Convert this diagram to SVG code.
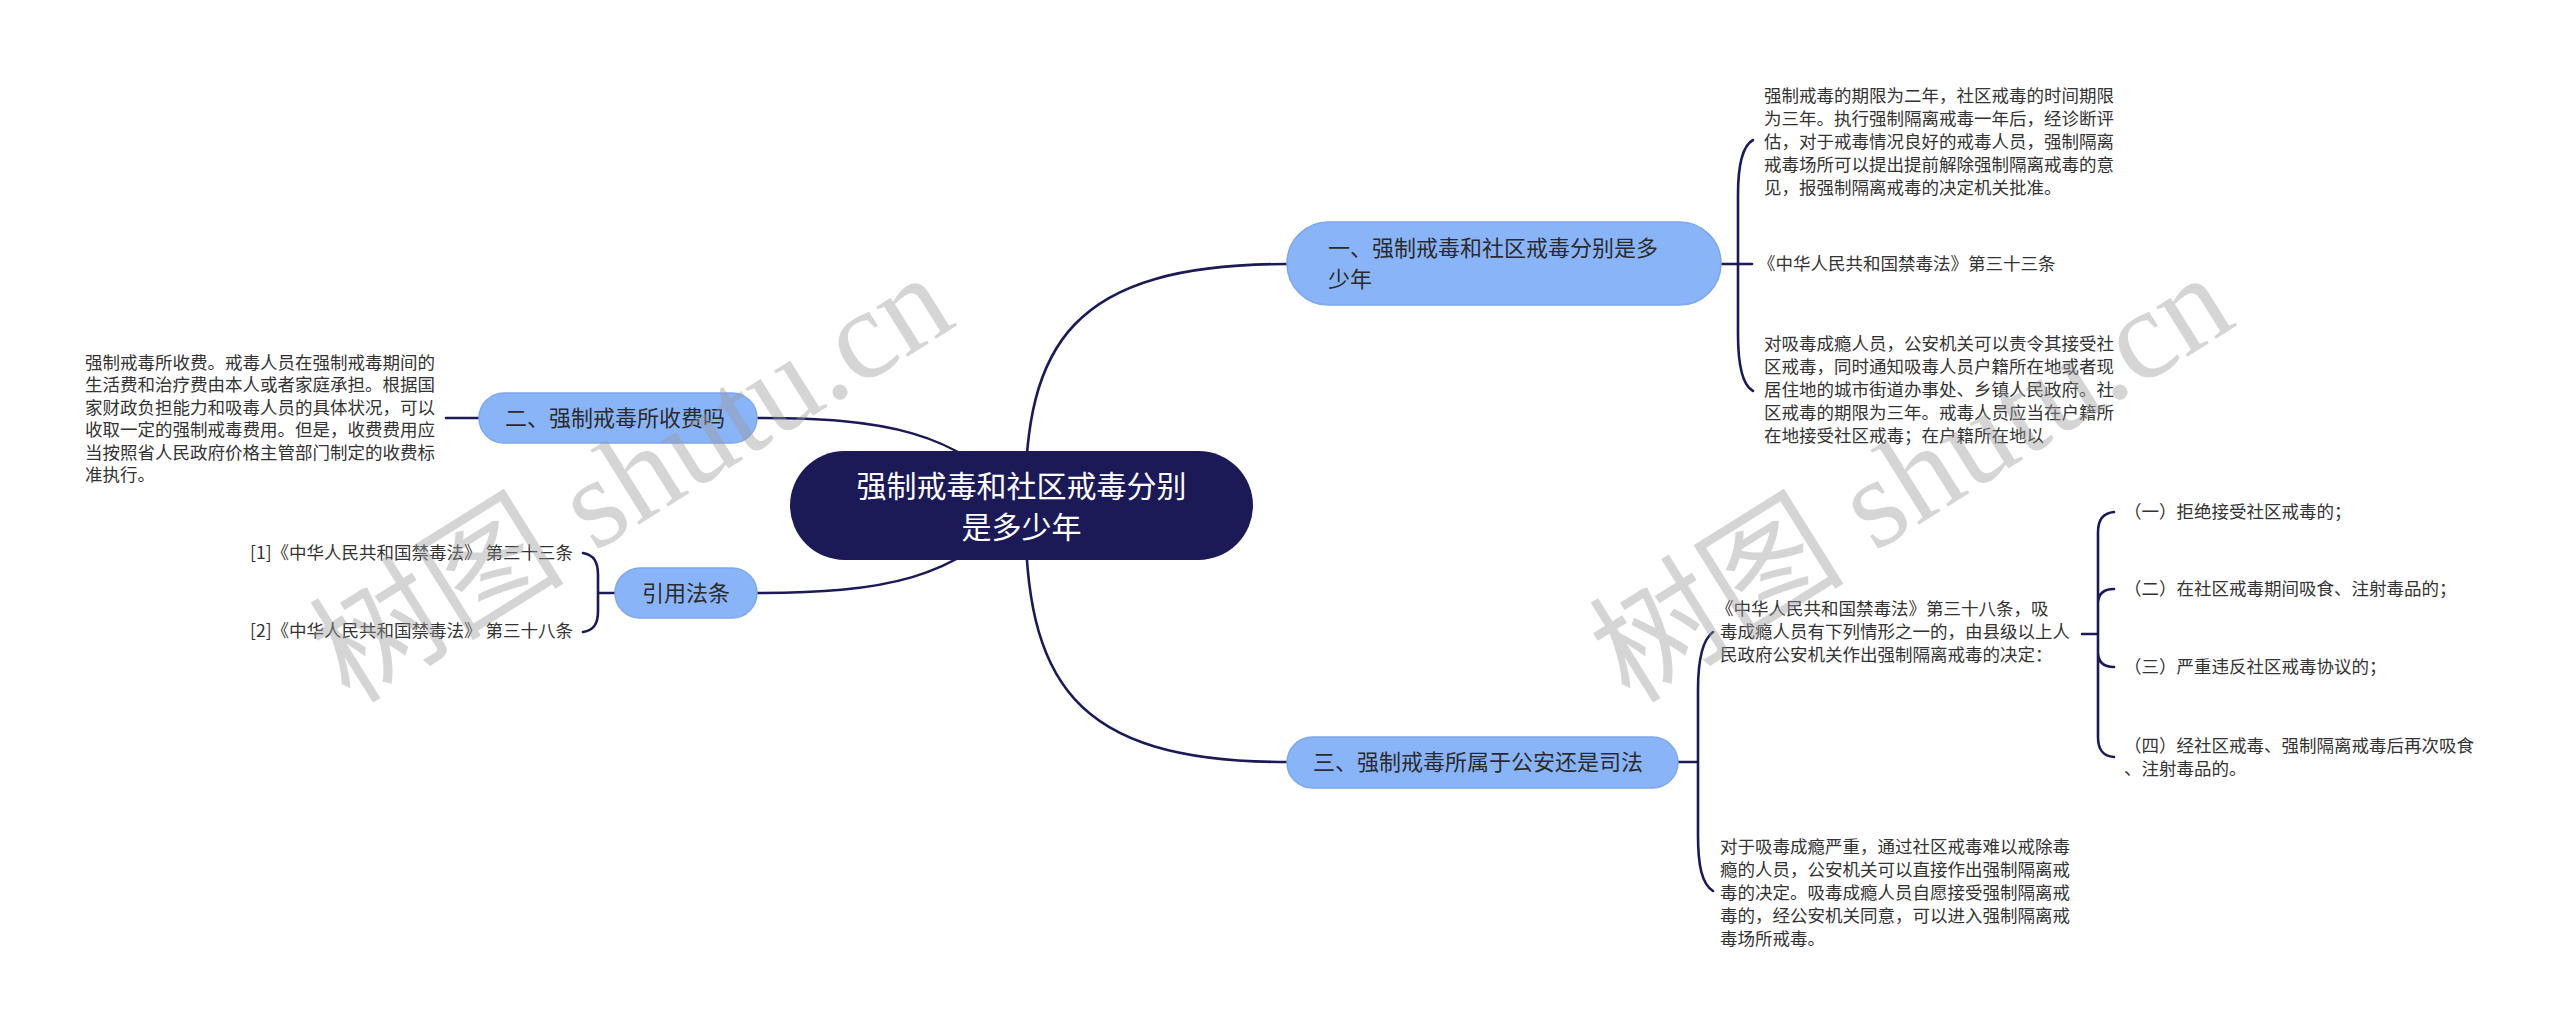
<svg xmlns="http://www.w3.org/2000/svg" width="2560" height="1032" viewBox="0 0 2560 1032">
<style>
.ln{fill:none;stroke:#1b1a57;stroke-width:2.6;stroke-linecap:round}
.br{fill:#8ab4f8;stroke:#7ea7ec;stroke-width:1.5}
.bt{font-family:"Noto Sans CJK SC","Noto Sans",sans-serif;font-size:22px;fill:#2b2b2b}
.tx{font-family:"Noto Sans CJK SC","Noto Sans",sans-serif;font-size:17.5px;fill:#333}
.wm{font-family:"Liberation Serif","Noto Sans CJK SC",serif;font-size:128px;fill:#9a9a9a;fill-opacity:0.42}
</style>
<rect width="2560" height="1032" fill="#ffffff"/>
<g id="connectors">
<path class="ln" d="M757,418 C880,418 960,430 1021,505"/>
<path class="ln" d="M757,593 C880,593 960,580 1021,505"/>
<path class="ln" d="M1025,505 C1025,345 1070,264 1287,264"/>
<path class="ln" d="M1025,505 C1025,680 1070,762 1287,762"/>
<path class="ln" d="M446,418 L479,418"/>
<path class="ln" d="M615,593 L598,593 M598,593 L598,575 C598,562 594,555 583,553 M598,593 L598,611 C598,624 594,630 583,632"/>
<path class="ln" d="M1721,264 L1752,264 M1738,264 L1738,195 C1738,165 1742,146 1753,140 M1738,264 L1738,334 C1738,365 1742,385 1753,391"/>
<path class="ln" d="M1678,762 L1698,762 M1698,762 L1698,690 C1698,660 1702,640 1713,632 M1698,762 L1698,835 C1698,866 1702,884 1713,891"/>
<path class="ln" d="M2082,634 L2098,634 M2098,634 L2098,532 C2098,520 2103,513 2114,512 M2098,634 L2098,604 C2098,594 2103,589 2114,589 M2098,634 L2098,652 C2098,662 2103,667 2114,667 M2098,634 L2098,737 C2098,750 2103,756 2114,757"/>
</g>
<g id="root">
<rect x="790" y="451" width="463" height="109" rx="54.5" fill="#1b1a57"/>
<text font-family="&quot;Noto Sans CJK SC&quot;,sans-serif" font-size="30" fill="#ffffff" text-anchor="middle"><tspan x="1021.5" y="497">强制戒毒和社区戒毒分别</tspan><tspan x="1021.5" y="538">是多少年</tspan></text>
</g>
<g id="b1">
<rect class="br" x="1287" y="222" width="434" height="83" rx="41.5"/>
<text class="bt"><tspan x="1328" y="256">一、强制戒毒和社区戒毒分别是多</tspan><tspan x="1328" y="287">少年</tspan></text>
</g>
<g id="b2">
<rect class="br" x="479" y="393" width="278" height="50" rx="25"/>
<text class="bt" x="505" y="426">二、强制戒毒所收费吗</text>
</g>
<g id="b3">
<rect class="br" x="615" y="568" width="142" height="50" rx="25"/>
<text class="bt" x="686" y="601" text-anchor="middle">引用法条</text>
</g>
<g id="b4">
<rect class="br" x="1287" y="737" width="391" height="51" rx="25.5"/>
<text class="bt" x="1313" y="770">三、强制戒毒所属于公安还是司法</text>
</g>
<g id="t_a">
<text class="tx"><tspan x="1764" y="102">强制戒毒的期限为二年，社区戒毒的时间期限</tspan><tspan x="1764" y="125">为三年。执行强制隔离戒毒一年后，经诊断评</tspan><tspan x="1764" y="148">估，对于戒毒情况良好的戒毒人员，强制隔离</tspan><tspan x="1764" y="171">戒毒场所可以提出提前解除强制隔离戒毒的意</tspan><tspan x="1764" y="194">见，报强制隔离戒毒的决定机关批准。</tspan></text>
</g>
<g id="t_b">
<text class="tx" x="1758" y="270">《中华人民共和国禁毒法》第三十三条</text>
</g>
<g id="t_c">
<text class="tx"><tspan x="1764" y="350">对吸毒成瘾人员，公安机关可以责令其接受社</tspan><tspan x="1764" y="373">区戒毒，同时通知吸毒人员户籍所在地或者现</tspan><tspan x="1764" y="396">居住地的城市街道办事处、乡镇人民政府。社</tspan><tspan x="1764" y="419">区戒毒的期限为三年。戒毒人员应当在户籍所</tspan><tspan x="1764" y="442">在地接受社区戒毒；在户籍所在地以</tspan></text>
</g>
<g id="t_f">
<text class="tx"><tspan x="85" y="369">强制戒毒所收费。戒毒人员在强制戒毒期间的</tspan><tspan x="85" y="391">生活费和治疗费由本人或者家庭承担。根据国</tspan><tspan x="85" y="414">家财政负担能力和吸毒人员的具体状况，可以</tspan><tspan x="85" y="436">收取一定的强制戒毒费用。但是，收费费用应</tspan><tspan x="85" y="459">当按照省人民政府价格主管部门制定的收费标</tspan><tspan x="85" y="481">准执行。</tspan></text>
</g>
<g id="cite1">
<text class="tx" x="573" y="559" text-anchor="end">[1]《中华人民共和国禁毒法》 第三十三条</text>
</g>
<g id="cite2">
<text class="tx" x="573" y="637" text-anchor="end">[2]《中华人民共和国禁毒法》 第三十八条</text>
</g>
<g id="t_d">
<text class="tx"><tspan x="1716" y="615">《中华人民共和国禁毒法》第三十八条，吸</tspan><tspan x="1720" y="638">毒成瘾人员有下列情形之一的，由县级以上人</tspan><tspan x="1720" y="661">民政府公安机关作出强制隔离戒毒的决定：</tspan></text>
</g>
<g id="t_e">
<text class="tx"><tspan x="1720" y="853">对于吸毒成瘾严重，通过社区戒毒难以戒除毒</tspan><tspan x="1720" y="876">瘾的人员，公安机关可以直接作出强制隔离戒</tspan><tspan x="1720" y="899">毒的决定。吸毒成瘾人员自愿接受强制隔离戒</tspan><tspan x="1720" y="922">毒的，经公安机关同意，可以进入强制隔离戒</tspan><tspan x="1720" y="945">毒场所戒毒。</tspan></text>
</g>
<g id="s1"><text class="tx" x="2124" y="518">（一）拒绝接受社区戒毒的；</text></g>
<g id="s2"><text class="tx" x="2124" y="595">（二）在社区戒毒期间吸食、注射毒品的；</text></g>
<g id="s3"><text class="tx" x="2124" y="673">（三）严重违反社区戒毒协议的；</text></g>
<g id="s4"><text class="tx"><tspan x="2124" y="752">（四）经社区戒毒、强制隔离戒毒后再次吸食</tspan><tspan x="2124" y="775">、注射毒品的。</tspan></text></g>
<g id="watermark">
<text class="wm" transform="translate(350,705) rotate(-32)">树图 shutu.cn</text>
<text class="wm" transform="translate(1630,705) rotate(-32)">树图 shutu.cn</text>
</g>
</svg>
